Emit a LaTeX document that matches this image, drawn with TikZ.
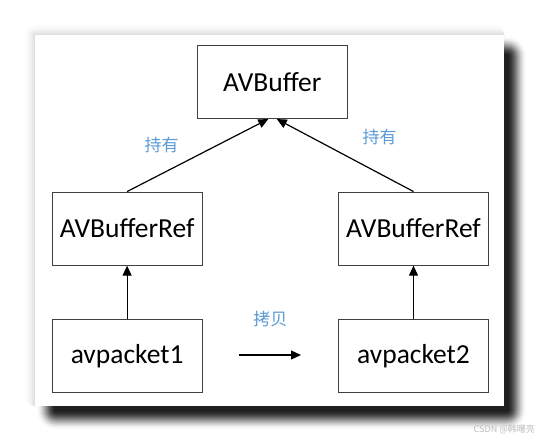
\documentclass[tikz,border=0pt]{standalone}
\usepackage{fontspec}
\setmainfont{Carlito}
\newfontfamily\cjk{Noto Sans CJK SC}
\usetikzlibrary{arrows.meta,calc}
\definecolor{lblblue}{HTML}{5B9BD5}
\definecolor{boxline}{HTML}{404040}
\begin{document}
\begin{tikzpicture}[x=1pt,y=-1pt,
  box/.style={draw=boxline,line width=1.1pt,fill=white,minimum width=150pt,minimum height=73pt,inner sep=0pt,font=\fontsize{27.5}{32}\selectfont},
  lbl/.style={text=lblblue,font=\cjk\fontsize{17}{20}\selectfont,inner sep=0pt},
  conn/.style={line width=1.2pt,-{Triangle[length=10pt,width=9pt]}}]
\useasboundingbox (0,0) rectangle (539,441);
% light top-left shadow (opaque grey steps, outer to inner)
\foreach \i in {0,...,24}{
  \pgfmathsetmacro{\t}{\i/24}
  \pgfmathsetmacro{\p}{14*\t*\t}
  \pgfmathsetmacro{\e}{12-\i*0.5}
  \fill[black!\p,rounded corners=\e pt] (35-\e,35-\e) rectangle (504,406);
}
% dark bottom-right shadow (opaque grey steps, smooth profile)
\foreach \i in {0,...,40}{
  \pgfmathsetmacro{\t}{\i/40}
  \pgfmathsetmacro{\p}{88*(3*\t*\t-2*\t*\t*\t)}
  \pgfmathsetmacro{\e}{20-\i*0.5}
  \fill[black!\p,rounded corners=\e pt] (56-\e,56-\e) rectangle (507+\e,410+\e);
}
% card
\fill[white] (35,35) rectangle (504,406);
% boxes
\node[box] (buf) at (272.3,82) {AVBuffer};
\node[box] (refl) at (127.1,228.6) {AVBufferRef};
\node[box] (refr) at (413.5,228.6) {AVBufferRef};
\node[box] (pk1) at (127.1,356.3) {avpacket1};
\node[box] (pk2) at (413.5,356.3) {avpacket2};
% targets on AVBuffer
\coordinate (tl) at ($(buf.south)+(-4,0)$);
\coordinate (tr) at ($(buf.south)+(4.5,0)$);
\draw[conn] (refl.north) -- (tl);
\draw[conn] (refr.north) -- (tr);
\draw[conn] (pk1.north) -- (refl.south);
\draw[conn] (pk2.north) -- (refr.south);
\coordinate (cs) at (238.7,355);
\coordinate (ce) at (301,355);
\draw[conn] (cs) -- (ce);
% labels
\node[lbl] (l1) at (161.5,145) {持有};
\node[lbl] (l2) at (379.7,137.5) {持有};
\node[lbl] (l3) at (270.4,319.5) {拷贝};
\node[text=black!25,font=\cjk\fontsize{9}{10}\selectfont,inner sep=0pt,anchor=east] (wm) at (535,429) {CSDN @韩曙亮};
\end{tikzpicture}
\end{document}
